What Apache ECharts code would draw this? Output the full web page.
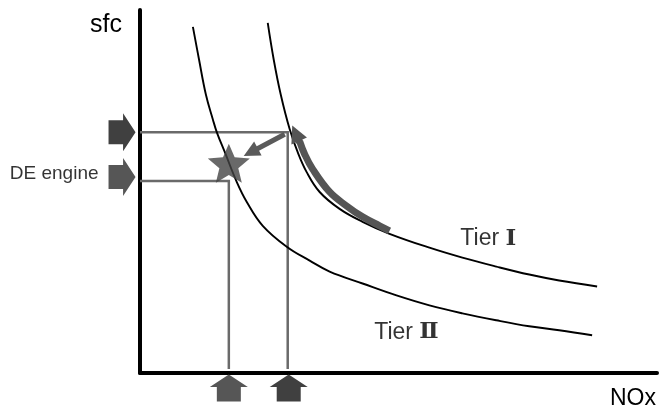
<!DOCTYPE html>
<html>
<head>
<meta charset="utf-8">
<script src="https://cdn.jsdelivr.net/npm/echarts@6/dist/echarts.min.js"></script>
<style>html,body{margin:0;padding:0;background:#fff;}#c{width:659px;height:410px;}</style>
</head>
<body>
<div id="c"></div>
<script>
// Schematic units: x = NOx, y = sfc (arbitrary units)
const tier1 = [[128,352],[134,315],[141,280],[150,245],[158,222],[167,202],[180,182],[200,165],[223,152],[250,140],[290,126],[323,116],[357,107],[390,99],[420,93],[458,87]];
const tier2 = [[53,348],[59,316],[66,280],[73,255],[77,242],[85,222],[97,192],[107,172],[123,148],[147,127],[170,113],[190,102],[223,90],[257,78],[290,68],[323,60],[357,53],[390,47],[420,43],[453,38]];
const band = [[250,143],[240,148],[223,157],[207,168],[190,182],[173,205],[165,220],[160,233]];
const bandTip = [[160,232],[156,241]];
const guideHigh = [[0,242],[148,242],[148,4]];
const guideLow = [[0,193],[89,193],[89,4]];
const starPoint = [[89,211]];
const moveArrow = [[145,240],[111,222]];
const leftArrowsDark = [[-18,242]];
const leftArrowsLight = [[-18,197]];
const upArrowsLight = [[89,-15]];
const upArrowsDark = [[149,-15]];
const textLabels = [
  {word:'DE engine', num:'', value:[-86,200], size:19},
  {word:'Tier ', num:'\u2160', value:[349,135], size:23},
  {word:'Tier ', num:'\u2161', value:[267,41], size:23}
];
const xName = 'NOx', yName = 'sfc';

const FONT = "'Liberation Sans', Arial, sans-serif";
const NUMFONT = "'DejaVu Serif', 'DejaVu Sans', serif";
const ARROW = 'path://M0,7L14,7L14,0L26,19L14,38L14,31L0,31Z';
const STAR = 'path://M50,0L63.2,31.8L97.55,34.55L71.4,57L79.39,90.45L50,72.5L20.61,90.45L28.6,57L2.45,34.55L36.8,31.8Z';

const chart = echarts.init(document.getElementById('c'), null, {renderer:'canvas'});
function arrowSeries(data, color, rot){
  return {type:'scatter', data, symbol:ARROW, symbolSize:[27,38], symbolKeepAspect:false,
    symbolRotate:rot, clip:false, silent:true, itemStyle:{color, opacity:1}, z:5};
}
chart.setOption({
  animation:false,
  backgroundColor:'#fff',
  grid:{left:140, right:1, top:10, bottom:35, containLabel:false},
  xAxis:{type:'value', min:0, max:518, name:xName, nameLocation:'end', nameGap:0,
    nameTextStyle:{fontFamily:FONT, fontSize:23, color:'#000', align:'right', verticalAlign:'top', padding:[14,1,0,0]},
    axisLine:{show:true, onZero:false, lineStyle:{color:'#000', width:4}},
    axisTick:{show:false}, axisLabel:{show:false}, splitLine:{show:false}},
  yAxis:{type:'value', min:0, max:365, name:yName, nameLocation:'end', nameGap:-15,
    nameTextStyle:{fontFamily:FONT, fontSize:25, color:'#000', align:'right', verticalAlign:'middle', padding:[0,18,0,0]},
    axisLine:{show:true, onZero:false, lineStyle:{color:'#000', width:4}},
    axisTick:{show:false}, axisLabel:{show:false}, splitLine:{show:false}},
  series:[
    {type:'line', data:guideHigh, showSymbol:false, symbol:'none', lineStyle:{color:'#6a6a6a', width:2.5, join:'miter'}, z:2},
    {type:'line', data:guideLow, showSymbol:false, symbol:'none', lineStyle:{color:'#6a6a6a', width:2.5, join:'miter'}, z:2},
    {type:'line', data:tier1, smooth:0.4, showSymbol:false, symbol:'none', lineStyle:{color:'#000', width:1.9}, z:3},
    {type:'line', data:tier2, smooth:0.4, showSymbol:false, symbol:'none', lineStyle:{color:'#000', width:1.9}, z:3},
    {type:'line', data:band, smooth:0.4, showSymbol:false, symbol:'none', lineStyle:{color:'#555', width:7, cap:'butt'}, z:4},
    {type:'lines', coordinateSystem:'cartesian2d', data:[{coords:bandTip}], symbol:['none','triangle'], symbolSize:[20,17],
      lineStyle:{color:'#555', width:7, opacity:1, curveness:0}, silent:true, z:4},
    {type:'lines', coordinateSystem:'cartesian2d', data:[{coords:moveArrow}], symbol:['none','triangle'], symbolSize:[17,16],
      lineStyle:{color:'#5a5a5a', width:5, opacity:1, curveness:0}, silent:true, z:4},
    {type:'scatter', data:starPoint, symbol:STAR, symbolSize:[42,39], symbolKeepAspect:false, clip:false, silent:true, itemStyle:{color:'#444'}, z:5},
    arrowSeries(leftArrowsDark, '#404040', 0),
    arrowSeries(leftArrowsLight, '#565656', 0),
    arrowSeries(upArrowsLight, '#565656', 90),
    arrowSeries(upArrowsDark, '#404040', 90),
    {type:'scatter', clip:false, silent:true, symbolSize:1, itemStyle:{color:'rgba(0,0,0,0)'},
      data:textLabels.map(t=>({name:t.word, value:t.value,
        label:{rich:{w:{fontSize:t.size, fontFamily:FONT, color:'#000'}, n:{fontSize:t.size, fontFamily:NUMFONT, fontWeight:'bold', color:'#000'}}}})),
      label:{show:true, position:'inside', color:'#000',
        formatter:p=>'{w|'+p.name+'}'+(textLabels[p.dataIndex].num ? '{n|'+textLabels[p.dataIndex].num+'}' : '')}, z:6}
  ]
});
</script>
</body>
</html>
